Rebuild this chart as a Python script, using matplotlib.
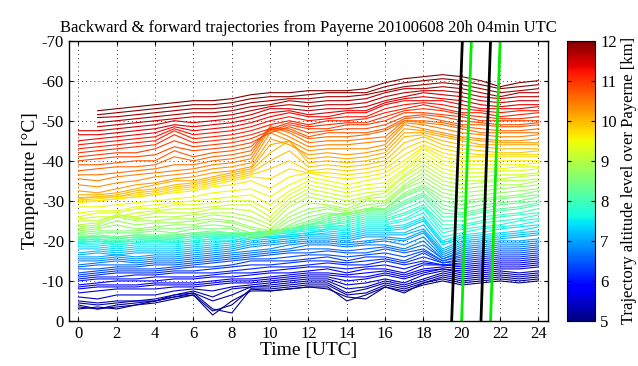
import numpy as np
import matplotlib
matplotlib.use("Agg")
import matplotlib.pyplot as plt
from matplotlib import cm, colors

plt.rcParams['font.family'] = ['Liberation Serif', 'DejaVu Serif']
plt.rcParams['axes.unicode_minus'] = False

# time axis of the trajectories [UTC hours]
hours = list(range(25))

# trajectory temperatures [degC], one list per altitude level (km over Payerne)
T_5_0 = [-3.0, -3.5, -3.0, -4.0, -4.5, -5.5, -6.5, -1.5, -5.0, -7.5, -7.5, -8.0, -8.5, -8.0, -6.0, -5.5, -8.5, -7.5, -9.0, -10.0, -9.0, -9.5, -10.0, -9.5, -10.0]
T_5_1 = [-3.5, -3.0, -3.5, -4.0, -5.0, -6.0, -6.5, -2.5, -4.0, -8.0, -7.5, -8.0, -8.5, -8.5, -5.0, -6.5, -8.5, -7.0, -9.5, -10.5, -9.5, -10.0, -10.5, -10.0, -10.5]
T_5_2 = [-4.0, -3.0, -4.0, -4.5, -5.0, -6.0, -7.0, -3.0, -2.0, -8.0, -8.0, -8.5, -9.0, -9.0, -6.5, -7.0, -9.0, -8.0, -9.5, -11.0, -10.0, -10.5, -11.0, -10.5, -11.0]
T_5_3 = [-4.5, -4.0, -4.5, -5.0, -5.0, -6.5, -7.0, -5.0, -6.5, -8.5, -8.5, -9.0, -9.5, -9.5, -7.0, -8.0, -9.5, -8.5, -10.0, -11.5, -10.5, -11.0, -11.5, -11.0, -11.5]
T_5_4 = [-5.0, -4.5, -5.0, -5.0, -5.5, -6.5, -7.5, -6.0, -8.0, -8.5, -9.0, -9.5, -10.0, -10.0, -8.0, -8.5, -10.0, -9.0, -10.5, -12.0, -11.0, -11.5, -12.0, -11.5, -12.0]
T_5_5 = [-6.0, -5.5, -6.5, -6.5, -6.5, -7.5, -8.0, -7.5, -8.5, -9.0, -9.5, -10.0, -10.5, -10.5, -9.0, -9.5, -10.5, -9.5, -11.5, -12.5, -11.5, -12.0, -12.5, -12.0, -12.5]
T_5_6 = [-7.0, -7.5, -8.0, -8.0, -8.0, -8.5, -8.5, -9.0, -9.5, -9.5, -10.0, -10.5, -11.0, -11.0, -10.0, -10.5, -11.5, -10.5, -12.0, -13.0, -12.0, -12.5, -13.0, -13.0, -13.5]
T_5_7 = [-8.0, -8.5, -8.5, -8.5, -9.0, -9.0, -9.0, -9.5, -10.0, -10.0, -10.5, -11.0, -11.5, -11.5, -11.0, -11.0, -12.0, -11.0, -12.5, -13.0, -12.5, -13.0, -13.5, -13.5, -14.0]
T_5_8 = [-8.5, -9.0, -9.0, -9.0, -9.5, -9.5, -9.5, -10.0, -10.5, -10.5, -11.0, -11.5, -12.0, -12.0, -11.5, -12.0, -12.5, -11.5, -13.0, -13.5, -13.0, -13.5, -14.0, -14.0, -14.5]
T_5_9 = [-9.0, -9.5, -10.0, -10.0, -10.0, -10.5, -10.5, -11.0, -11.0, -11.5, -12.0, -12.0, -12.5, -13.0, -12.0, -13.0, -13.0, -12.0, -14.0, -14.0, -13.5, -14.0, -14.5, -14.5, -15.0]
T_6_0 = [-10.0, -10.5, -10.5, -10.5, -11.0, -11.0, -11.0, -11.5, -12.0, -12.0, -12.5, -13.0, -13.5, -13.5, -13.0, -13.5, -14.0, -13.0, -14.5, -14.0, -14.0, -14.5, -15.0, -15.0, -15.5]
T_6_1 = [-10.5, -11.0, -11.0, -11.5, -11.5, -12.0, -12.0, -12.0, -12.5, -13.0, -13.5, -13.5, -14.0, -14.5, -14.0, -14.0, -15.0, -14.0, -15.0, -14.0, -14.5, -15.0, -15.5, -15.5, -16.0]
T_6_2 = [-11.0, -11.5, -12.0, -12.0, -12.0, -12.5, -12.5, -13.0, -13.5, -14.0, -14.0, -14.5, -15.0, -15.0, -14.5, -15.0, -15.5, -14.5, -16.0, -14.5, -15.0, -15.5, -16.0, -16.0, -16.5]
T_6_3 = [-11.5, -12.0, -12.5, -12.5, -12.5, -13.0, -13.5, -13.5, -14.0, -15.0, -15.0, -15.0, -15.5, -16.0, -15.0, -16.0, -16.0, -15.0, -17.0, -14.5, -15.5, -16.0, -16.5, -16.5, -17.0]
T_6_4 = [-12.0, -12.5, -13.0, -13.0, -13.0, -13.5, -14.0, -14.5, -15.0, -15.5, -15.5, -16.0, -16.5, -16.5, -16.0, -16.5, -17.0, -16.0, -17.5, -15.0, -16.0, -16.5, -17.0, -17.0, -17.5]
T_6_5 = [-13.0, -13.0, -13.5, -13.5, -14.0, -14.0, -14.5, -15.0, -15.5, -16.0, -16.5, -17.0, -17.0, -17.5, -17.0, -17.0, -18.0, -17.0, -18.0, -15.0, -16.5, -17.0, -17.5, -17.5, -18.0]
T_6_6 = [-13.5, -14.0, -14.0, -14.0, -14.5, -14.5, -15.0, -15.5, -16.0, -16.5, -17.0, -17.5, -18.0, -18.0, -17.5, -18.0, -18.5, -17.5, -19.0, -15.5, -17.0, -17.5, -18.0, -18.0, -18.5]
T_6_7 = [-14.0, -14.5, -15.0, -14.5, -15.0, -15.0, -15.5, -16.0, -16.5, -17.0, -17.5, -18.0, -19.0, -19.0, -18.5, -19.0, -19.0, -18.0, -20.0, -15.5, -17.5, -18.0, -18.5, -18.5, -19.0]
T_6_8 = [-15.0, -15.0, -15.5, -15.0, -15.5, -15.5, -16.0, -16.5, -17.0, -17.5, -18.0, -19.0, -19.5, -19.5, -19.0, -19.5, -20.0, -19.0, -21.0, -16.0, -18.0, -18.5, -19.0, -19.0, -19.5]
T_6_9 = [-15.5, -15.5, -16.0, -15.5, -16.0, -16.0, -16.5, -17.0, -17.5, -18.5, -19.0, -19.5, -20.0, -20.0, -19.5, -20.0, -20.5, -20.0, -22.0, -16.5, -18.5, -19.0, -19.5, -19.5, -20.0]
T_7_0 = [-16.0, -16.0, -16.5, -16.0, -16.5, -16.5, -17.0, -17.5, -18.0, -19.0, -19.5, -20.0, -20.5, -20.5, -20.0, -21.0, -21.0, -20.5, -22.5, -17.0, -19.0, -19.5, -20.0, -20.0, -20.5]
T_7_1 = [-16.5, -17.0, -16.5, -17.0, -17.0, -17.0, -17.5, -18.0, -18.5, -19.5, -20.0, -20.5, -21.0, -21.0, -20.5, -21.5, -21.5, -21.5, -23.0, -17.5, -19.5, -20.0, -20.5, -21.0, -21.5]
T_7_2 = [-17.0, -17.5, -17.0, -17.5, -17.5, -17.5, -18.0, -18.5, -19.0, -20.0, -20.5, -21.0, -21.5, -21.5, -21.0, -22.0, -22.0, -22.0, -24.0, -18.0, -20.0, -20.5, -21.0, -21.5, -22.0]
T_7_3 = [-18.0, -18.0, -17.5, -18.0, -18.0, -18.0, -18.5, -19.0, -19.5, -20.5, -21.0, -21.0, -21.5, -22.0, -21.5, -22.5, -22.5, -23.0, -25.0, -19.0, -20.5, -21.0, -21.5, -22.0, -22.5]
T_7_4 = [-18.5, -18.5, -18.0, -18.5, -18.5, -18.5, -19.0, -19.5, -20.0, -21.0, -21.0, -21.5, -22.0, -22.5, -22.0, -23.0, -23.0, -23.5, -25.5, -19.5, -21.0, -21.5, -22.0, -22.5, -23.5]
T_7_5 = [-19.0, -19.0, -18.5, -19.0, -19.0, -19.0, -19.5, -20.0, -20.0, -21.0, -21.0, -21.5, -22.0, -23.0, -22.5, -23.5, -23.5, -24.0, -26.0, -20.0, -21.5, -22.0, -23.0, -23.5, -24.0]
T_7_6 = [-19.3, -19.5, -19.0, -19.5, -19.5, -19.5, -20.0, -20.5, -20.5, -21.5, -21.5, -22.0, -22.5, -23.0, -23.0, -24.0, -24.0, -25.0, -27.0, -21.0, -22.0, -23.0, -23.5, -24.0, -25.0]
T_7_7 = [-19.5, -20.0, -19.0, -19.5, -20.0, -19.5, -20.0, -20.5, -21.0, -21.5, -22.0, -22.0, -23.0, -23.5, -23.5, -24.5, -24.5, -25.5, -28.0, -22.0, -23.0, -23.5, -24.0, -25.0, -25.5]
T_7_8 = [-19.8, -20.0, -19.5, -20.0, -20.0, -20.0, -20.5, -21.0, -21.0, -22.0, -22.0, -22.5, -23.0, -23.5, -24.0, -25.0, -25.0, -26.5, -28.5, -23.0, -23.5, -24.5, -25.0, -25.5, -26.5]
T_7_9 = [-20.0, -20.5, -19.5, -20.5, -20.0, -20.5, -21.0, -21.0, -21.5, -22.0, -22.5, -22.5, -23.5, -24.0, -24.5, -25.5, -25.5, -27.0, -29.0, -24.0, -24.0, -25.0, -26.0, -26.5, -27.0]
T_8_0 = [-20.3, -20.5, -20.0, -20.5, -20.5, -20.5, -21.0, -21.5, -21.5, -22.0, -22.5, -23.0, -23.5, -24.0, -25.0, -26.0, -26.0, -28.0, -30.0, -25.0, -25.0, -26.0, -26.5, -27.0, -28.0]
T_8_1 = [-20.5, -21.0, -20.5, -21.0, -20.5, -21.0, -21.5, -21.5, -21.5, -22.0, -22.5, -23.0, -24.0, -24.5, -25.5, -26.5, -26.5, -29.0, -31.0, -26.0, -26.0, -27.0, -27.5, -28.0, -29.0]
T_8_2 = [-20.8, -21.0, -20.5, -21.0, -21.0, -21.0, -21.5, -22.0, -22.0, -22.0, -22.5, -23.0, -24.0, -25.0, -26.0, -27.0, -27.0, -29.5, -31.5, -27.0, -26.5, -27.5, -28.0, -28.5, -29.5]
T_8_3 = [-21.0, -21.0, -21.0, -21.5, -21.0, -21.5, -22.0, -22.0, -22.0, -21.5, -22.0, -23.0, -24.0, -25.5, -26.5, -27.5, -27.5, -30.0, -32.0, -28.0, -27.0, -28.0, -29.0, -29.5, -30.0]
T_8_4 = [-21.0, -21.5, -21.0, -21.5, -21.5, -21.5, -22.0, -22.5, -22.0, -20.5, -21.5, -23.0, -24.5, -26.0, -27.0, -28.0, -28.0, -31.0, -33.0, -29.0, -28.0, -29.0, -29.5, -30.0, -31.0]
T_8_5 = [-21.5, -22.0, -22.0, -22.0, -22.5, -22.0, -23.0, -23.0, -23.0, -21.0, -21.5, -23.5, -25.0, -26.5, -27.0, -28.0, -28.0, -31.5, -33.5, -30.0, -29.0, -30.0, -30.5, -31.0, -31.5]
T_8_6 = [-22.0, -22.5, -22.5, -22.5, -23.0, -23.0, -23.5, -24.0, -23.5, -22.0, -21.5, -24.0, -26.0, -27.0, -26.5, -27.5, -28.0, -32.0, -34.0, -31.0, -30.0, -30.5, -31.0, -31.5, -32.5]
T_8_7 = [-22.5, -23.0, -24.0, -23.0, -23.5, -24.0, -24.0, -25.0, -24.5, -23.0, -22.0, -25.0, -27.0, -28.0, -27.0, -28.0, -29.0, -33.0, -35.0, -32.0, -31.0, -31.5, -32.0, -32.5, -33.0]
T_8_8 = [-23.0, -23.5, -25.0, -24.0, -24.5, -24.5, -25.0, -25.5, -25.0, -23.5, -22.5, -26.0, -28.0, -28.5, -27.5, -29.0, -29.5, -33.5, -36.0, -33.0, -32.0, -32.5, -33.0, -33.5, -34.0]
T_8_9 = [-23.5, -24.0, -26.0, -25.0, -25.0, -25.5, -25.5, -26.5, -26.0, -25.0, -23.0, -27.0, -29.5, -29.0, -28.0, -30.0, -30.0, -34.0, -37.0, -34.0, -33.0, -33.5, -34.0, -34.0, -35.0]
T_9_0 = [-24.0, -24.5, -26.5, -25.5, -26.0, -26.0, -26.5, -27.0, -27.0, -26.0, -24.0, -28.5, -31.0, -30.0, -29.0, -30.5, -31.0, -35.0, -38.0, -35.0, -34.0, -34.5, -35.0, -35.0, -35.5]
T_9_1 = [-25.0, -25.0, -26.5, -26.0, -27.0, -27.0, -27.0, -28.0, -28.0, -27.5, -25.0, -29.5, -32.0, -31.0, -30.0, -31.0, -32.0, -36.0, -39.0, -36.0, -35.0, -35.0, -35.5, -36.0, -36.5]
T_9_2 = [-25.5, -26.0, -26.0, -27.0, -27.5, -28.0, -28.0, -28.5, -29.0, -29.0, -26.0, -30.5, -33.0, -32.0, -31.0, -32.0, -32.5, -36.5, -40.0, -37.0, -36.0, -36.0, -36.5, -36.5, -37.0]
T_9_3 = [-26.0, -27.0, -27.0, -28.0, -28.0, -29.0, -29.0, -29.5, -30.0, -30.0, -27.5, -31.5, -34.0, -33.0, -32.0, -33.0, -33.5, -37.5, -41.0, -38.0, -37.0, -37.0, -37.5, -37.5, -38.0]
T_9_4 = [-27.0, -27.5, -27.5, -28.5, -29.0, -29.5, -30.0, -30.5, -31.0, -31.5, -29.0, -32.5, -35.0, -34.0, -33.0, -34.0, -34.5, -38.0, -42.0, -39.0, -38.0, -38.0, -38.0, -38.5, -38.5]
T_9_5 = [-28.5, -28.5, -29.0, -29.5, -30.0, -30.5, -31.0, -32.0, -32.5, -33.0, -31.0, -34.0, -36.0, -35.0, -34.0, -35.0, -36.0, -39.0, -43.0, -40.0, -39.0, -39.0, -39.0, -39.0, -39.5]
T_9_6 = [-29.5, -30.0, -30.5, -31.0, -31.5, -32.0, -32.5, -33.5, -34.0, -35.0, -33.0, -36.0, -37.0, -36.0, -35.5, -36.0, -37.0, -40.0, -43.5, -41.0, -40.0, -40.0, -40.0, -40.0, -40.0]
T_9_7 = [-30.0, -30.0, -30.5, -31.0, -31.5, -32.5, -33.0, -34.0, -35.0, -36.0, -35.5, -38.0, -37.0, -37.0, -36.5, -37.0, -38.0, -41.5, -44.0, -42.0, -41.0, -41.0, -41.0, -41.0, -41.0]
T_9_8 = [-30.2, -30.5, -31.0, -31.5, -32.0, -33.0, -33.5, -34.5, -35.5, -36.5, -38.0, -40.0, -37.5, -38.0, -37.5, -38.0, -39.0, -43.0, -45.0, -43.0, -42.0, -41.5, -41.5, -41.5, -41.5]
T_9_9 = [-30.5, -31.0, -31.0, -32.0, -32.5, -33.5, -34.0, -35.0, -36.0, -37.0, -40.0, -42.5, -38.5, -39.0, -38.5, -39.0, -40.0, -44.5, -46.0, -44.0, -43.0, -42.5, -42.0, -42.0, -42.5]
T_10_0 = [-30.8, -31.0, -31.5, -32.5, -33.0, -34.0, -34.5, -35.5, -36.5, -37.5, -42.0, -45.0, -39.5, -40.0, -39.5, -40.0, -41.0, -46.0, -46.5, -45.0, -44.0, -43.5, -43.0, -43.0, -43.0]
T_10_1 = [-31.5, -31.5, -32.0, -33.0, -34.0, -35.0, -35.0, -36.0, -37.0, -38.0, -44.0, -45.0, -40.5, -41.0, -40.5, -41.0, -42.0, -47.0, -47.0, -46.0, -45.0, -44.0, -44.0, -44.0, -44.0]
T_10_2 = [-32.5, -32.0, -33.0, -34.0, -34.5, -35.5, -36.0, -37.0, -37.5, -38.5, -45.5, -44.0, -41.5, -42.0, -41.5, -42.0, -43.0, -48.0, -47.5, -46.5, -45.5, -45.0, -44.5, -44.5, -44.5]
T_10_3 = [-34.0, -33.5, -34.5, -35.0, -36.0, -36.5, -37.0, -38.0, -38.5, -39.5, -47.0, -45.0, -42.5, -43.0, -43.0, -43.0, -44.0, -49.0, -48.0, -47.0, -46.0, -45.5, -45.0, -45.0, -45.5]
T_10_4 = [-35.5, -35.0, -36.0, -36.5, -37.0, -37.5, -38.0, -39.0, -39.5, -40.5, -48.0, -46.0, -43.5, -44.0, -44.0, -44.5, -45.0, -49.5, -49.0, -48.0, -47.0, -46.5, -46.0, -46.0, -46.5]
T_10_5 = [-36.5, -36.5, -37.0, -37.5, -38.0, -39.0, -39.0, -40.0, -40.5, -41.5, -48.5, -47.0, -44.5, -45.0, -45.0, -45.5, -46.0, -50.0, -49.5, -49.0, -48.0, -47.0, -47.0, -47.0, -47.0]
T_10_6 = [-37.5, -38.0, -38.5, -38.5, -39.0, -41.0, -40.0, -41.0, -41.5, -42.5, -48.5, -47.5, -45.5, -46.0, -46.0, -46.5, -47.5, -50.0, -50.0, -49.5, -48.5, -48.0, -47.5, -47.5, -48.0]
T_10_7 = [-39.0, -39.0, -39.5, -40.0, -40.0, -42.5, -41.0, -42.0, -42.5, -43.5, -48.0, -48.0, -46.0, -47.0, -47.0, -47.0, -48.0, -50.5, -51.0, -50.0, -49.0, -49.0, -48.5, -48.5, -49.0]
T_10_8 = [-40.0, -40.5, -41.0, -41.0, -41.5, -43.5, -42.5, -43.0, -43.5, -44.5, -47.0, -48.5, -47.0, -47.5, -48.0, -48.0, -49.0, -51.0, -51.5, -51.0, -50.0, -49.5, -49.0, -49.0, -49.5]
T_10_9 = [-41.0, -41.5, -42.0, -42.0, -43.0, -45.0, -43.5, -44.0, -44.5, -45.5, -47.5, -49.0, -48.0, -48.0, -49.0, -49.0, -50.0, -52.0, -52.0, -51.5, -51.0, -50.0, -50.0, -50.0, -50.0]
T_11_0 = [-42.0, -42.5, -43.0, -43.5, -44.0, -46.5, -44.5, -45.0, -45.5, -46.5, -48.0, -49.5, -48.5, -49.0, -49.5, -49.5, -51.0, -52.5, -53.0, -52.5, -51.5, -51.0, -50.5, -50.5, -51.0]
T_11_1 = [-43.0, -43.5, -44.0, -44.5, -45.0, -47.5, -45.5, -46.0, -46.5, -47.5, -49.0, -50.0, -49.0, -50.0, -50.0, -50.5, -52.0, -53.0, -54.0, -53.0, -52.0, -52.0, -51.0, -51.5, -52.0]
T_11_2 = [-44.0, -44.5, -45.0, -45.5, -46.0, -48.0, -46.5, -47.0, -47.5, -48.5, -50.0, -51.0, -50.0, -50.5, -51.0, -51.0, -53.0, -54.0, -54.5, -54.0, -53.0, -52.5, -52.0, -52.5, -52.5]
T_11_3 = [-45.0, -45.5, -46.0, -46.5, -47.0, -48.5, -47.5, -48.0, -48.5, -49.5, -51.0, -52.0, -51.0, -51.0, -52.0, -52.0, -54.0, -55.0, -55.0, -55.0, -54.0, -53.0, -53.0, -53.0, -53.5]
T_11_4 = [-46.5, -46.5, -47.0, -47.5, -48.0, -49.0, -48.5, -49.0, -49.5, -50.5, -52.0, -52.5, -51.5, -52.0, -52.5, -52.5, -54.5, -55.5, -56.0, -55.5, -55.0, -54.0, -53.5, -54.0, -54.0]
T_11_5 = [-47.5, -47.5, -48.0, -48.5, -49.0, -50.0, -49.5, -50.0, -50.5, -51.5, -53.0, -53.0, -52.5, -53.0, -53.0, -53.5, -55.0, -56.0, -57.0, -56.5, -56.0, -55.0, -54.5, -55.0, -55.0]
T_11_6 = [np.nan, -48.5, -49.0, -49.5, -50.0, -50.5, -51.0, -51.0, -51.5, -52.5, -53.5, -54.0, -53.5, -54.0, -54.0, -54.5, -56.0, -57.0, -57.5, -57.5, -57.0, -56.0, -55.5, -56.0, -56.0]
T_11_7 = [np.nan, -49.5, -50.0, -50.5, -51.0, -51.5, -52.0, -52.0, -52.5, -53.5, -54.0, -55.0, -54.5, -55.0, -55.0, -55.5, -57.0, -58.0, -58.0, -58.5, -58.0, -57.0, -56.0, -57.0, -57.0]
T_11_8 = [np.nan, -50.8, -51.0, -51.5, -52.0, -52.5, -53.0, -53.0, -53.5, -54.5, -55.0, -55.5, -55.5, -56.0, -56.0, -56.5, -57.5, -58.5, -59.0, -59.5, -59.0, -58.0, -57.0, -57.5, -58.0]
T_11_9 = [np.nan, -51.5, -52.0, -52.5, -53.0, -53.5, -54.0, -54.0, -54.5, -55.5, -56.0, -56.0, -56.5, -57.0, -57.0, -57.0, -58.5, -59.5, -60.0, -60.5, -60.0, -59.0, -58.0, -58.5, -59.0]
T_12_0 = [np.nan, -52.5, -53.0, -53.5, -54.0, -54.5, -55.0, -55.0, -55.5, -56.5, -57.0, -57.0, -57.5, -57.5, -57.5, -58.0, -59.5, -60.5, -61.0, -61.5, -61.0, -60.0, -58.5, -59.5, -60.0]

levels_km = [5.0, 5.1, 5.2, 5.3, 5.4, 5.5, 5.6, 5.7, 5.8, 5.9, 6.0, 6.1, 6.2, 6.3, 6.4, 6.5, 6.6, 6.7,
             6.8, 6.9, 7.0, 7.1, 7.2, 7.3, 7.4, 7.5, 7.6, 7.7, 7.8, 7.9, 8.0, 8.1, 8.2, 8.3, 8.4, 8.5,
             8.6, 8.7, 8.8, 8.9, 9.0, 9.1, 9.2, 9.3, 9.4, 9.5, 9.6, 9.7, 9.8, 9.9, 10.0, 10.1, 10.2,
             10.3, 10.4, 10.5, 10.6, 10.7, 10.8, 10.9, 11.0, 11.1, 11.2, 11.3, 11.4, 11.5, 11.6, 11.7,
             11.8, 11.9, 12.0]
trajectories = [T_5_0, T_5_1, T_5_2, T_5_3, T_5_4, T_5_5, T_5_6, T_5_7, T_5_8, T_5_9,
                T_6_0, T_6_1, T_6_2, T_6_3, T_6_4, T_6_5, T_6_6, T_6_7, T_6_8, T_6_9,
                T_7_0, T_7_1, T_7_2, T_7_3, T_7_4, T_7_5, T_7_6, T_7_7, T_7_8, T_7_9,
                T_8_0, T_8_1, T_8_2, T_8_3, T_8_4, T_8_5, T_8_6, T_8_7, T_8_8, T_8_9,
                T_9_0, T_9_1, T_9_2, T_9_3, T_9_4, T_9_5, T_9_6, T_9_7, T_9_8, T_9_9,
                T_10_0, T_10_1, T_10_2, T_10_3, T_10_4, T_10_5, T_10_6, T_10_7, T_10_8, T_10_9,
                T_11_0, T_11_1, T_11_2, T_11_3, T_11_4, T_11_5, T_11_6, T_11_7, T_11_8, T_11_9,
                T_12_0]

# radiosonde ascents (time, temperature) - black and green
sonde_black_1 = ([19.47, 20.03], [0, -70])
sonde_green_1 = ([19.99, 20.50], [0, -70])
sonde_black_2 = ([21.00, 21.50], [0, -70])
sonde_green_2 = ([21.50, 22.00], [0, -70])

fig = plt.figure(figsize=(6.38, 3.66), dpi=100)
ax = fig.add_axes([0.108, 0.123, 0.751, 0.766])
cax = fig.add_axes([0.889, 0.123, 0.044, 0.766])

norm = colors.Normalize(vmin=5, vmax=12)
cmap = plt.get_cmap('jet')

for alt, temps in zip(levels_km, trajectories):
    ax.plot(hours, temps, color=cmap(norm(alt)), lw=0.8)

for (tt, yy), c in [(sonde_black_1, 'black'), (sonde_green_1, '#00ee00'),
                    (sonde_black_2, 'black'), (sonde_green_2, '#00ee00')]:
    ax.plot(tt, yy, color=c, lw=2.0)

ax.set_xlim(-0.5, 24.5)
ax.set_ylim(0, -70)
ax.set_xticks(range(0, 25, 2))
ax.set_yticks(range(-70, 1, 10))
ax.grid(True, ls=(0, (1, 4)), color='black', lw=0.6)
ax.tick_params(direction='in', top=True, right=True, labelsize=12, length=3)
for s in ax.spines.values():
    s.set_linewidth(1.0)

ax.set_xlabel('Time [UTC]', fontsize=14, labelpad=0)
ax.set_ylabel('Temperature [°C]', fontsize=14, labelpad=2)
ax.set_title('Backward & forward trajectories from Payerne 20100608 20h 04min UTC',
             fontsize=12, pad=6)

sm = cm.ScalarMappable(norm=norm, cmap=cmap)
cb = fig.colorbar(sm, cax=cax, ticks=range(5, 13))
cb.ax.tick_params(direction='in', labelsize=12, length=3, left=True, right=True)
cb.set_label('Trajectory altitude level over Payerne [km]', fontsize=12, labelpad=3)

fig.savefig('out.png', dpi=100)
